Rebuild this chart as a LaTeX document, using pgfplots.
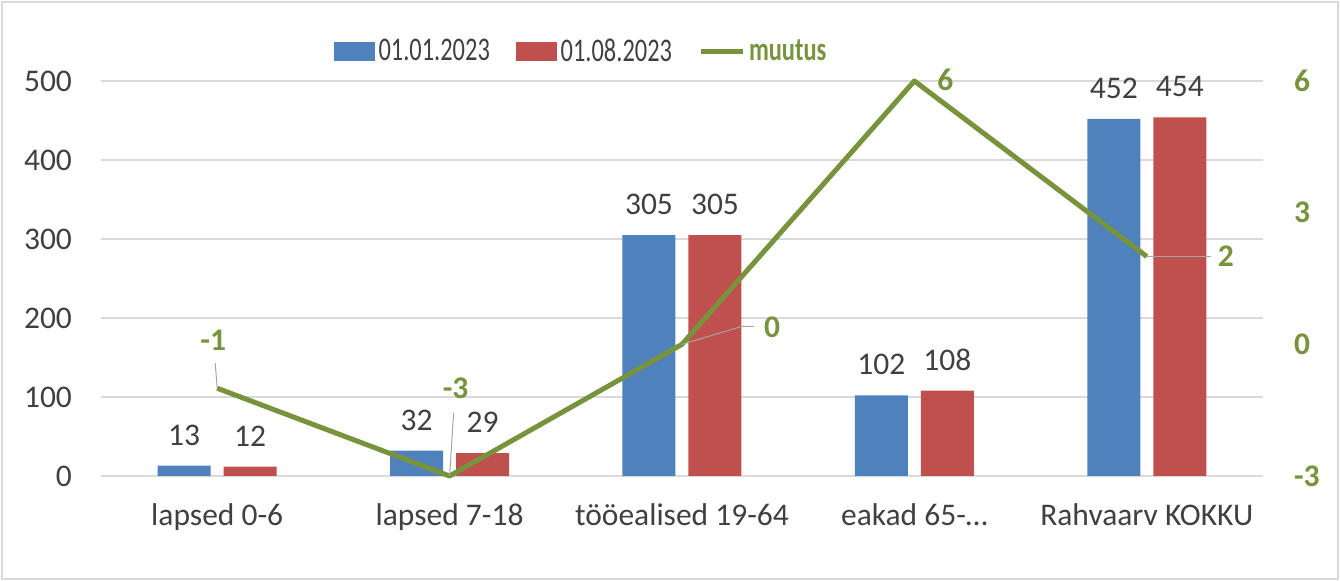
\documentclass[border=0pt]{standalone}
\usepackage{pgfplots}
\pgfplotsset{compat=1.18}
\usepackage{fontspec}
\setmainfont{Carlito}
\newfontfamily\legfont{Carlito}[FakeStretch=0.74]
\definecolor{cblue}{HTML}{4F81BD}
\definecolor{cred}{HTML}{C0504D}
\definecolor{cgreen}{HTML}{77933C}
\definecolor{ctext}{HTML}{404040}
\definecolor{cgrid}{HTML}{D9D9D9}
\newcommand{\lblfont}{\fontsize{15.75}{19}\selectfont}
\newcommand{\legsize}{\fontsize{16.5}{19}\selectfont}
\begin{document}
\begin{tikzpicture}[x=0.5pt,y=0.5pt]
\useasboundingbox (0,0) rectangle (1340,581);
\draw[cgrid, line width=0.75pt] (2,2) rectangle (1338,579);
\begin{axis}[
  at={(50.5pt,52.5pt)}, anchor=south west,
  scale only axis, width=581pt, height=197.5pt,
  xmin=-0.5, xmax=4.5, ymin=0, ymax=500,
  ytick={0,100,...,500},
  xtick={0,1,2,3,4},
  xticklabels={lapsed 0-6, lapsed 7-18, tööealised 19-64, eakad 65-\dots, Rahvaarv KOKKU},
  axis x line*=bottom, axis y line*=left,
  x axis line style={cgrid, line width=0.75pt, -},
  y axis line style={draw=none},
  major tick style={draw=none},
  ymajorgrids, grid style={cgrid, line width=0.75pt},
  /pgf/number format/assume math mode=true,
  tick label style={font=\lblfont, text=ctext},
  yticklabel style={xshift=-11pt},
  xticklabel style={yshift=-10.5pt},
  nodes near coords,
  nodes near coords style={font=\lblfont, text=ctext, anchor=south, inner sep=0pt, yshift=10pt},
]
\addplot[ybar, bar width=26.5pt, bar shift=-16.5pt, fill=cblue, draw=none,
  every node near coord/.append style={xshift=-16.5pt}]
  coordinates {(0,13) (1,32) (2,305) (3,102) (4,452)};
\addplot[ybar, bar width=26.5pt, bar shift=16.5pt, fill=cred, draw=none,
  every node near coord/.append style={xshift=16.5pt}]
  coordinates {(0,12) (1,29) (2,305) (3,108) (4,454)};
\end{axis}
\begin{axis}[
  at={(50.5pt,52.5pt)}, anchor=south west,
  scale only axis, width=581pt, height=197.5pt,
  xmin=-0.5, xmax=4.5, ymin=-3, ymax=6,
  ytick={-3,0,3,6},
  clip=false,
  axis x line=none, axis y line*=right,
  y axis line style={draw=none},
  major tick style={draw=none},
  /pgf/number format/assume math mode=true,
  yticklabel style={font=\lblfont\bfseries, text=cgreen, xshift=12pt},
  legend style={at={(0.414,1.075)}, anchor=center, draw=none, fill=none,
    legend columns=3, font=\legsize\legfont, text=ctext,
    /tikz/every even column/.append style={column sep=11pt}},
  legend cell align=left,
]
\addlegendimage{legend image code/.code={\fill[cblue] (0pt,-4.5pt) rectangle (20pt,4.5pt);}}
\addlegendentry{01.01.2023}
\addlegendimage{legend image code/.code={\fill[cred] (0pt,-4.5pt) rectangle (20pt,4.5pt);}}
\addlegendentry{01.08.2023}
\addplot[cgreen, line width=2.5pt, line join=round,
  legend image code/.code={\draw[cgreen, line width=2.5pt] (0pt,0pt) -- (21pt,0pt);}]
  coordinates {(0,-1) (1,-3) (2,0) (3,6) (4,2)};
\addlegendentry{\textcolor{cgreen}{\bfseries muutus}}
% leader lines
\draw[gray!70, line width=0.5pt] (axis cs:0,-1) -- ++(-1pt,12.5pt);
\draw[gray!70, line width=0.5pt] (axis cs:1,-3) -- ++(2pt,31.5pt);
\draw[gray!70, line width=0.5pt] (axis cs:2,0) -- ++(30pt,9pt) -- ++(6pt,0pt);
\draw[gray!70, line width=0.5pt] (axis cs:4,2) -- ++(32pt,0pt);
% value labels
\node[font=\lblfont\bfseries, text=cgreen] at ([shift={(-2pt,24pt)}]axis cs:0,-1) {-1};
\node[font=\lblfont\bfseries, text=cgreen] at ([shift={(3pt,44pt)}]axis cs:1,-3) {-3};
\node[font=\lblfont\bfseries, text=cgreen] at ([shift={(45pt,8.5pt)}]axis cs:2,0) {0};
\node[font=\lblfont\bfseries, text=cgreen] at ([shift={(15.5pt,0.5pt)}]axis cs:3,6) {6};
\node[font=\lblfont\bfseries, text=cgreen] at ([shift={(39.5pt,0pt)}]axis cs:4,2) {2};
\end{axis}
\end{tikzpicture}
\end{document}
